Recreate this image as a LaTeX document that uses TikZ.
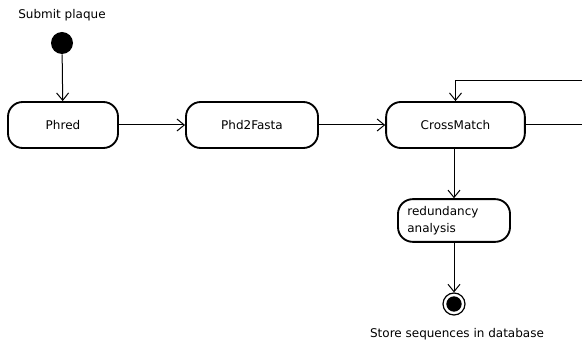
\documentclass[tikz,border=0pt]{standalone}
\usepackage{fontspec}
\setmainfont{DejaVu Sans}
\usetikzlibrary{arrows.meta}
\begin{document}
\begin{tikzpicture}[x=0.75pt,y=-0.75pt,
  act/.style={draw,line width=1.4pt,rounded corners=11pt,fill=white,font=\fontsize{9}{10.5}\selectfont},
  conn/.style={draw,line width=0.75pt,-{Straight Barb[length=5.5pt,width=9pt,line width=0.75pt]}},
  lbl/.style={font=\fontsize{9}{10.5}\selectfont}]
\useasboundingbox (0,0) rectangle (582,345);
\node[circle,fill=black,minimum size=16.5pt,inner sep=0pt] (start) at (62,43) {};
\node[lbl] (slbl) at (62,15) {Submit plaque};
\node[act,minimum width=82.5pt,minimum height=34.5pt] (phred) at (63,125) {Phred};
\node[act,minimum width=99pt,minimum height=34.5pt] (phd) at (252,125) {Phd2Fasta};
\node[act,minimum width=104pt,minimum height=34.5pt] (cross) at (455.5,125) {CrossMatch};
\node[act,minimum width=84pt,minimum height=32pt,align=left,text width=70pt,inner xsep=7pt,font=\fontsize{9}{12.5}\selectfont] (red) at (454,220.5) {redundancy\\analysis};
\node[circle,draw,line width=0.9pt,minimum size=16.5pt,inner sep=0pt] (end) at (454,304) {};
\node[circle,fill=black,minimum size=11.5pt,inner sep=0pt] (endin) at (end) {};
\node[lbl] (elbl) at (457,334) {Store sequences in database};
\coordinate (rA) at (582,81);
\coordinate (rB) at (582,125);
\draw[conn] (start) -- (phred);
\draw[conn] (phred) -- (phd);
\draw[conn] (phd) -- (cross);
\draw[conn] (cross.south -| red.north) -- (red);
\draw[conn] (red) -- (end);
\draw[conn] (rA) -- (cross.north |- rA) -- (cross.north);
\draw[line width=0.75pt] (cross.east) -- (rB);
\end{tikzpicture}
\end{document}
